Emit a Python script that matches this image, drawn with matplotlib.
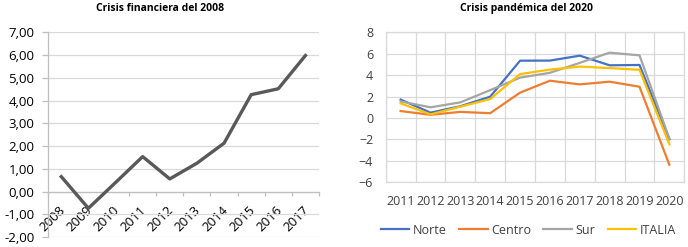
import matplotlib
matplotlib.use("Agg")
import matplotlib.pyplot as plt
import matplotlib.transforms as mtransforms
from matplotlib.ticker import FuncFormatter, FixedLocator

plt.rcParams['font.family'] = ['Open Sans', 'DejaVu Sans']

# ---- data ----
years_left = ["2008", "2009", "2010", "2011", "2012", "2013", "2014", "2015", "2016", "2017"]
values_left = [0.66, -0.73, 0.40, 1.54, 0.56, 1.25, 2.13, 4.26, 4.52, 5.98]

years_right = ["2011", "2012", "2013", "2014", "2015", "2016", "2017", "2018", "2019", "2020"]
norte = [1.72, 0.50, 1.10, 1.99, 5.35, 5.36, 5.82, 4.92, 4.95, -1.98]
centro = [0.65, 0.30, 0.57, 0.45, 2.37, 3.48, 3.14, 3.39, 2.92, -4.36]
sur = [1.55, 1.00, 1.46, 2.60, 3.77, 4.22, 5.15, 6.10, 5.85, -1.92]
italia = [1.37, 0.34, 1.06, 1.77, 4.10, 4.52, 4.80, 4.66, 4.50, -2.46]
series_names = ["Norte", "Centro", "Sur", "ITALIA"]
series_colors = ["#4472C4", "#ED7D31", "#A5A5A5", "#FFC000"]

W, H = 688, 247
fig = plt.figure(figsize=(W / 100, H / 100), dpi=100)

def box(x0, x1, ytop, ybot):
    return [x0 / W, 1 - ybot / H, (x1 - x0) / W, (ybot - ytop) / H]

grid_c = "#d9d9d9"
axis_c = "#bfbfbf"
text_c = "#404040"

# ---- left chart ----
ax1 = fig.add_axes(box(47.7, 319, 32.3, 237.2))
xl = list(range(len(years_left)))
ax1.plot(xl, values_left, color="#595959", lw=2.4, solid_joinstyle='round', zorder=3)
ax1.set_xlim(-0.5, len(years_left) - 0.5)
ax1.set_ylim(-2, 7)
ax1.set_yticks(range(-2, 8))
ax1.yaxis.set_major_formatter(FuncFormatter(lambda v, p: f"{v:.2f}".replace(".", ",")))
ax1.grid(axis='y', color=grid_c, lw=0.9, zorder=0)
ax1.set_axisbelow(True)
for s in ["top", "right"]:
    ax1.spines[s].set_visible(False)
ax1.spines['left'].set_color(axis_c)
ax1.spines['left'].set_linewidth(0.9)
ax1.spines['bottom'].set_position(('data', 0))
ax1.spines['bottom'].set_color(axis_c)
ax1.spines['bottom'].set_linewidth(0.9)
ax1.tick_params(axis='y', length=4.5, width=0.9, color=axis_c, labelsize=9.5,
                labelcolor="#000000", pad=5)
ax1.set_xticks(xl)
ax1.set_xticklabels(years_left, rotation=45, ha='right', va='top',
                    rotation_mode='anchor', fontsize=9.5)
ax1.tick_params(axis='x', which='major', length=0, pad=8.5)
ax1.xaxis.set_minor_locator(FixedLocator([i - 0.5 for i in range(len(years_left) + 1)]))
ax1.tick_params(axis='x', which='minor', length=3, width=0.9, color=axis_c, direction='out')
shift = mtransforms.ScaledTranslation(-3 / 100, 0, fig.dpi_scale_trans)
for lbl in ax1.get_xticklabels():
    lbl.set_transform(lbl.get_transform() + shift)
fig.text(160 / W, 1 - 8.5 / H, "Crisis financiera del 2008", ha='center', va='center',
         fontsize=7.5, fontweight='bold')

# ---- right chart ----
ax2 = fig.add_axes(box(385.7, 684.3, 32.3, 182.3))
xr = list(range(len(years_right)))
for name, vals, col in zip(series_names, [norte, centro, sur, italia], series_colors):
    ax2.plot(xr, vals, color=col, lw=1.6, label=name, zorder=3)
ax2.set_xlim(-0.5, len(years_right) - 0.5)
ax2.set_ylim(-6, 8)
ax2.set_yticks(range(-6, 9, 2))
ax2.set_xticks(xr)
ax2.set_xticklabels(years_right)
ax2.xaxis.set_minor_locator(FixedLocator([i - 0.5 for i in range(len(years_right) + 1)]))
ax2.grid(axis='y', which='major', color=grid_c, lw=0.9, zorder=0)
ax2.grid(axis='x', which='minor', color=grid_c, lw=0.9, zorder=0)
ax2.set_axisbelow(True)
for s in ax2.spines.values():
    s.set_color(grid_c)
    s.set_linewidth(0.9)
ax2.tick_params(axis='both', which='both', length=0, labelsize=9, labelcolor=text_c, pad=9)
fig.text(526 / W, 1 - 8.5 / H, "Crisis pandémica del 2020", ha='center', va='center',
         fontsize=7.5, fontweight='bold')
fig.legend(loc='center', bbox_to_anchor=(528.5 / W, 1 - 230 / H), ncol=4, frameon=False,
           fontsize=9, handlelength=2.3, handletextpad=0.3, columnspacing=0.95,
           labelcolor=text_c)

fig.savefig("out.png", dpi=100)
